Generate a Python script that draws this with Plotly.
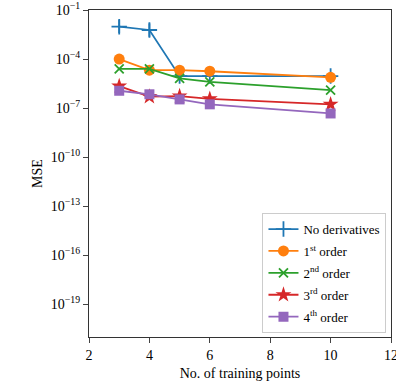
import plotly.graph_objects as go

x_points = [3, 4, 5, 6, 10]
no_deriv = [9.5e-3, 6.0e-3, 9.0e-6, 9.0e-6, 9.1e-6]
no_deriv_err_plus = [1.5e-2, 9.1e-3, 1.0e-6, 1.0e-6, 6.7e-6]
no_deriv_err_minus = [5.6e-3, 3.7e-3, 1.0e-6, 1.0e-6, 4.0e-6]
first = [1.0e-4, 2.1e-5, 2.1e-5, 1.8e-5, 7.6e-6]
second = [2.5e-5, 2.5e-5, 6.6e-6, 4.0e-6, 1.25e-6]
third = [2.2e-6, 5.0e-7, 5.4e-7, 3.7e-7, 1.7e-7]
fourth = [1.15e-6, 7.0e-7, 3.4e-7, 1.7e-7, 4.7e-8]

x_ticks = [2, 4, 6, 8, 10, 12]
y_exps = [-1, -4, -7, -10, -13, -16, -19]

names = ["No derivatives", "1<sup>st</sup> order", "2<sup>nd</sup> order",
         "3<sup>rd</sup> order", "4<sup>th</sup> order"]
colors = ["#1f77b4", "#ff7f0e", "#2ca02c", "#d62728", "#9467bd"]

fig = go.Figure()
fig.add_trace(go.Scatter(
    x=x_points, y=no_deriv, name=names[0], mode="lines+markers",
    line=dict(color=colors[0], width=1.8),
    marker=dict(symbol="cross-thin", size=11, line=dict(color=colors[0], width=1.8)),
    error_y=dict(type="data", symmetric=False, array=no_deriv_err_plus,
                 arrayminus=no_deriv_err_minus, color=colors[0], thickness=1.8, width=0),
    legendgroup="a"))
series = [first, second, third, fourth]
symbols = ["circle", "x-thin", "star", "square"]
sizes = [11, 9, 12, 10]
for i, (s, sym, sz) in enumerate(zip(series, symbols, sizes)):
    mk = dict(symbol=sym, size=sz, color=colors[i + 1])
    if sym == "x-thin":
        mk["line"] = dict(color=colors[i + 1], width=1.8)
    fig.add_trace(go.Scatter(
        x=x_points, y=s, name=names[i + 1], mode="lines+markers",
        line=dict(color=colors[i + 1], width=1.8), marker=mk,
        legendgroup=str(i)))

font_family = "Liberation Serif, Times New Roman, serif"
tick_font = dict(family=font_family, size=14, color="black")
fig.update_layout(
    width=396, height=392,
    margin=dict(l=89, r=5, t=10, b=55, autoexpand=False),
    paper_bgcolor="white", plot_bgcolor="white",
    font=dict(family=font_family, size=14, color="black"),
    showlegend=True,
    legend=dict(x=0.985, y=0.012, xanchor="right", yanchor="bottom",
                bgcolor="rgba(255,255,255,0.8)", bordercolor="#cccccc", borderwidth=1,
                font=dict(family=font_family, size=13), tracegroupgap=2,
                itemwidth=30),
    xaxis=dict(range=[2, 12], tickvals=x_ticks, ticks="outside", ticklen=5,
               tickfont=tick_font, ticklabeloverflow="allow", automargin=False,
               showline=True, linecolor="#333", linewidth=1.2, mirror=True,
               showgrid=False, zeroline=False,
               title=dict(text="No. of training points", standoff=6,
                          font=dict(family=font_family, size=14))),
    yaxis=dict(type="log", range=[-21, -1],
               tickvals=[10 ** e for e in y_exps],
               ticktext=["10<sup>\u2212%d</sup>" % (-e) for e in y_exps],
               ticks="outside", ticklen=5, tickfont=tick_font,
               ticklabeloverflow="allow", automargin=False,
               showline=True, linecolor="#333", linewidth=1.2, mirror=True,
               showgrid=False, zeroline=False,
               title=dict(text="MSE", standoff=4,
                          font=dict(family=font_family, size=14))),
)
fig.write_html("out.html")
